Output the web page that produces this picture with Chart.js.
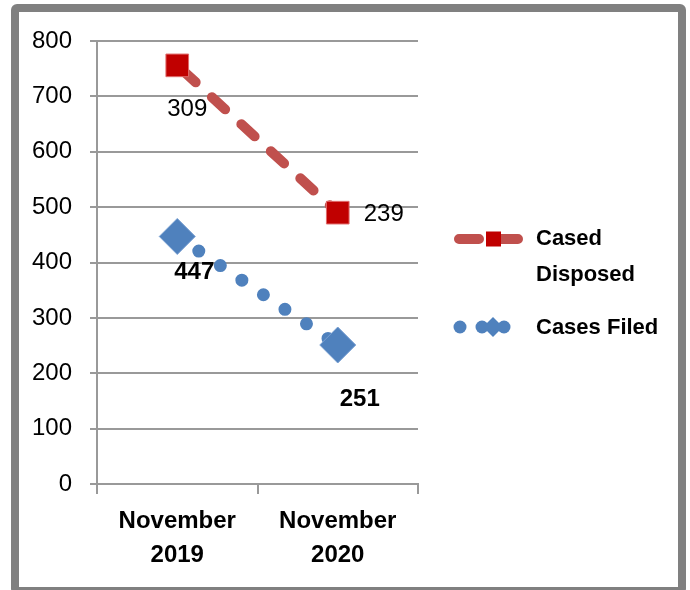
<!DOCTYPE html>
<html>
<head>
<meta charset="utf-8">
<script src="https://cdn.jsdelivr.net/npm/chart.js@4.4.1/dist/chart.umd.min.js"></script>
<style>
  html, body { margin: 0; padding: 0; background: #fff; overflow: hidden; }
  #wrap { position: relative; width: 690px; height: 590px; }
  #chart { position: absolute; left: 0; top: 0; }
  #frame { position: absolute; left: 11px; top: 4px; width: 675px; height: 591px; box-sizing: border-box;
           border: 8px solid #808080; border-radius: 6px; pointer-events: none; }
</style>
</head>
<body>
<div id="wrap">
  <canvas id="chart" width="690" height="590"></canvas>
  <div id="frame"></div>
</div>
<script>
// datos del grafico
const months = [['November', '2019'], ['November', '2020']];
const casesFiled = [447, 251];
const casesDisposed = [309, 239];
const seriesNames = ['Cases Filed', 'Cased Disposed'];
const yMin = 0, yMax = 800, yStep = 100;

const FONT = "'Liberation Sans', Arial, sans-serif";
const BLUE = '#4f81bd';
const RED_LINE = '#c0504d';
const RED_MARK = '#c00000';

// desplazamiento de las etiquetas respecto a cada punto
const labelOffsets = [
    [[17, 36], [22, 54]],   // Cases Filed
    [[10, 44], [46, 2]]     // Cased Disposed
];
const labelBold = [true, false];

const pointLabels = {
    id: 'pointLabels',
    afterDatasetsDraw(chart) {
        const ctx = chart.ctx;
        ctx.save();
        ctx.textAlign = 'center';
        ctx.textBaseline = 'middle';
        ctx.fillStyle = '#000';
        chart.data.datasets.forEach((ds, di) => {
            const meta = chart.getDatasetMeta(di);
            ctx.font = (labelBold[di] ? 'bold ' : '') + '24px ' + FONT;
            meta.data.forEach((pt, i) => {
                const off = labelOffsets[di][i];
                ctx.fillText(String(ds.data[i]), pt.x + off[0], pt.y + off[1]);
            });
        });
        ctx.restore();
    }
};

function wrapText(ctx, text, maxWidth) {
    const words = text.split(' ');
    const lines = [];
    let line = '';
    words.forEach(w => {
        const test = line ? line + ' ' + w : w;
        if (line && ctx.measureText(test).width > maxWidth) {
            lines.push(line);
            line = w;
        } else {
            line = test;
        }
    });
    if (line) lines.push(line);
    return lines;
}

// leyenda a la derecha, dibujada a mano
const sideLegend = {
    id: 'sideLegend',
    afterDraw(chart) {
        const ctx = chart.ctx;
        ctx.save();

        // Cased Disposed
        let y = 239;
        ctx.strokeStyle = RED_LINE;
        ctx.lineWidth = 10;
        ctx.lineCap = 'round';
        ctx.beginPath();
        ctx.moveTo(459, y); ctx.lineTo(479, y);
        ctx.moveTo(500, y); ctx.lineTo(518, y);
        ctx.stroke();
        ctx.fillStyle = RED_MARK;
        ctx.fillRect(486, y - 7.5, 15, 15);

        // Cases Filed
        y = 327;
        ctx.fillStyle = BLUE;
        [460, 482, 504].forEach(x => {
            ctx.beginPath();
            ctx.arc(x, y, 6.5, 0, Math.PI * 2);
            ctx.fill();
        });
        ctx.beginPath();
        ctx.moveTo(493, y - 10); ctx.lineTo(503, y); ctx.lineTo(493, y + 10); ctx.lineTo(483, y);
        ctx.closePath();
        ctx.fill();

        ctx.fillStyle = '#000';
        ctx.font = 'bold 22px ' + FONT;
        ctx.textAlign = 'left';
        ctx.textBaseline = 'middle';
        const entries = [[seriesNames[1], 239], [seriesNames[0], 328]];
        entries.forEach(([name, ty]) => {
            wrapText(ctx, name, 135).forEach((l, i) => ctx.fillText(l, 536, ty + i * 36));
        });
        ctx.restore();
    }
};

new Chart(document.getElementById('chart'), {
    type: 'line',
    data: {
        labels: months,
        datasets: [
            {
                label: seriesNames[0],
                data: casesFiled,
                borderColor: BLUE,
                borderWidth: 13,
                borderDash: [0, 26],
                borderCapStyle: 'round',
                pointStyle: 'rectRot',
                pointRadius: 18,
                pointBackgroundColor: BLUE,
                pointBorderColor: '#79a0d2',
                pointBorderWidth: 1,
                fill: false,
                clip: false
            },
            {
                label: seriesNames[1],
                data: casesDisposed,
                borderColor: RED_LINE,
                borderWidth: 10,
                borderDash: [18, 22],
                borderDashOffset: -7,
                borderCapStyle: 'round',
                pointStyle: 'rect',
                pointRadius: 16,
                pointBackgroundColor: RED_MARK,
                pointBorderColor: '#e06a6a',
                pointBorderWidth: 1,
                fill: false,
                clip: false
            }
        ]
    },
    options: {
        responsive: false,
        devicePixelRatio: 1,
        animation: false,
        layout: { padding: { left: 0, top: 41, right: 272, bottom: 0 } },
        plugins: { legend: { display: false }, tooltip: { enabled: false } },
        scales: {
            x: {
                offset: true,
                grid: { offset: true, drawOnChartArea: false, tickLength: 10, color: '#999', lineWidth: 2 },
                border: { display: true, color: '#999', width: 2 },
                ticks: { color: '#000', font: { family: FONT, size: 24, weight: 'bold', lineHeight: 1.4 }, padding: 11, maxRotation: 0 },
                afterFit(scale) { scale.height = 106; }
            },
            y: {
                stacked: true,
                min: yMin,
                max: yMax,
                grid: { color: '#999', lineWidth: 2, tickLength: 7 },
                border: { display: true, color: '#999', width: 2 },
                ticks: { stepSize: yStep, color: '#000', font: { family: FONT, size: 24 }, padding: 18 },
                afterFit(scale) { scale.width = 97; }
            }
        }
    },
    plugins: [pointLabels, sideLegend]
});
</script>
</body>
</html>
